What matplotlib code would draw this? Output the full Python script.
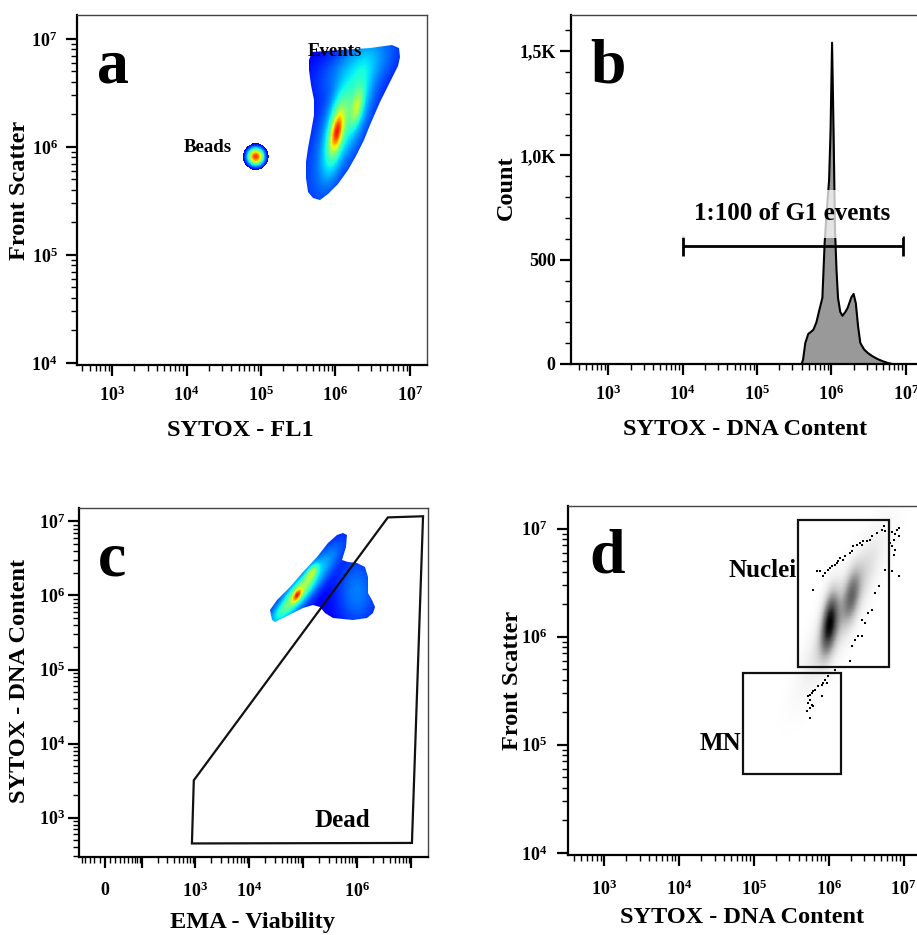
import numpy as np
import matplotlib
matplotlib.use('Agg')
import matplotlib.pyplot as plt
from matplotlib.colors import ListedColormap
from matplotlib.patches import Polygon, Rectangle
from matplotlib.ticker import (FixedLocator, FixedFormatter, LogLocator,
                               NullFormatter, MultipleLocator)

plt.rcParams['font.family'] = 'Liberation Serif'
plt.rcParams['font.weight'] = 'bold'
plt.rcParams['mathtext.fontset'] = 'custom'
plt.rcParams['mathtext.rm'] = 'Liberation Serif:bold'
plt.rcParams['mathtext.bf'] = 'Liberation Serif:bold'
plt.rcParams['mathtext.it'] = 'Liberation Serif:italic'

# ---------------- panel a : SYTOX-FL1 vs FSC (log10 units) ----------------
events_outline_lx = [5.644, 5.685, 6.060, 6.463, 6.758, 6.852, 6.866, 6.839, 6.732, 6.597,
                     6.463, 6.383, 6.275, 6.168, 6.034, 5.899, 5.792, 5.698, 5.631, 5.604,
                     5.604, 5.631, 5.671, 5.711, 5.711, 5.671, 5.644]
events_outline_ly = [6.806, 6.880, 6.898, 6.917, 6.944, 6.917, 6.833, 6.750, 6.602, 6.417,
                     6.204, 6.065, 5.917, 5.787, 5.657, 5.565, 5.509, 5.528, 5.583, 5.713,
                     5.861, 5.991, 6.139, 6.296, 6.435, 6.574, 6.713]
# populations: centre x, centre y, sd x, sd y, correlation, weight
events_cx = [6.02, 6.02, 6.29, 6.27, 6.15, 6.30]
events_cy = [6.14, 6.16, 6.37, 6.40, 6.30, 6.75]
events_sx = [0.05, 0.10, 0.05, 0.12, 0.30, 0.30]
events_sy = [0.10, 0.22, 0.10, 0.22, 0.45, 0.15]
events_rho = [0.5, 0.6, 0.5, 0.6, 0.75, 0.5]
events_w = [1.0, 0.45, 0.35, 0.20, 0.12, 0.08]
beads_cx, beads_cy = 4.93, 5.91
beads_sx, beads_sy = 0.07, 0.05

# ---------------- panel b : DNA content histogram ----------------
dna_log = [5.60, 5.62, 5.65, 5.69, 5.73, 5.76, 5.80, 5.84, 5.88, 5.91,
           5.94, 5.97, 5.99, 6.01, 6.03, 6.04, 6.05, 6.07, 6.09, 6.12,
           6.15, 6.19, 6.22, 6.27, 6.30, 6.33, 6.36, 6.39, 6.44, 6.49,
           6.55, 6.62, 6.70, 6.76, 6.82]
dna_count = [0, 20, 100, 144, 155, 165, 200, 260, 317, 577,
             740, 880, 1120, 1540, 1120, 880, 640, 450, 317, 250,
             231, 250, 269, 320, 336, 290, 180, 101, 70, 53,
             38, 24, 12, 5, 0]
g1_gate = [1e4, 9.1e6]
g1_gate_level = 567

# ---------------- panel c : EMA vs SYTOX ----------------
live_outline_lx = [4.425, 4.388, 4.518, 4.758, 4.999, 5.258, 5.462, 5.629, 5.740, 5.814,
                   5.795, 5.721, 5.832, 5.999, 6.147, 6.203, 6.203, 6.277, 6.332, 6.295,
                   6.184, 5.925, 5.555, 5.406, 5.314, 5.184, 4.999, 4.814, 4.629, 4.481]
live_outline_ly = [5.662, 5.797, 5.932, 6.108, 6.311, 6.514, 6.703, 6.811, 6.838, 6.811,
                   6.649, 6.473, 6.446, 6.432, 6.378, 6.243, 6.027, 5.932, 5.838, 5.757,
                   5.689, 5.662, 5.689, 5.757, 5.838, 5.865, 5.824, 5.757, 5.689, 5.635]
live_cx = [4.89, 4.92, 5.16, 5.00, 4.62, 6.00]
live_cy = [6.00, 6.04, 6.30, 6.10, 5.80, 6.05]
live_sx = [0.05, 0.16, 0.07, 0.35, 0.12, 0.20]
live_sy = [0.05, 0.14, 0.07, 0.30, 0.10, 0.25]
live_rho = [0.6, 0.8, 0.6, 0.9, 0.7, 0.0]
live_w = [1.0, 0.40, 0.40, 0.18, 0.12, 0.05]
dead_gate_x = [950, 3.73e6, 1.67e7, 1.04e7, 877]
dead_gate_y = [3200, 1.13e7, 1.17e7, 457, 450]

# ---------------- panel d : SYTOX vs FSC, nuclei / MN gates ----------------
nuc_cx = [6.01, 6.31, 6.20]
nuc_cy = [6.13, 6.38, 6.26]
nuc_sx = [0.07, 0.07, 0.26]
nuc_sy = [0.17, 0.15, 0.34]
nuc_rho = [0.4, 0.4, 0.88]
nuc_w = [1.0, 0.40, 0.30]
nuclei_gate = [3.84e5, 6.38e6, 5.27e5, 1.21e7]   # x0, x1, y0, y1
mn_gate = [7.2e4, 1.45e6, 5.4e4, 4.64e5]
dots_lx = [6.734, 6.711, 6.756, 6.801, 6.846, 6.890, 6.913, 6.935, 6.868, 6.823,
           6.846, 6.890, 6.868, 6.935, 6.644, 6.577, 6.555, 6.510, 6.465, 6.443,
           6.421, 6.376, 6.331, 6.309, 6.286, 6.219, 6.197, 6.152, 6.130, 6.107,
           6.085, 6.040, 6.018, 5.996, 5.951, 5.928, 5.884, 5.839, 5.794, 6.756,
           6.801, 6.846, 6.935, 6.667, 6.622, 6.577, 6.532, 6.488, 6.443, 6.443,
           6.398, 6.353, 6.309, 6.286, 6.085, 6.040, 5.996, 5.951, 5.928, 5.973,
           5.906, 5.861, 5.817, 5.794, 5.772, 5.749, 5.727, 5.906, 5.749, 5.727,
           5.772, 5.794, 5.749, 5.705, 5.749]
dots_ly = [7.022, 6.991, 6.975, 6.960, 6.966, 6.954, 6.991, 6.929, 6.898, 6.867,
           6.836, 6.806, 6.759, 7.006, 6.960, 6.929, 6.898, 6.883, 6.883, 6.852,
           6.867, 6.852, 6.836, 6.790, 6.775, 6.744, 6.713, 6.728, 6.698, 6.682,
           6.667, 6.651, 6.636, 6.620, 6.590, 6.559, 6.605, 6.605, 6.435, 6.620,
           6.590, 6.605, 6.559, 6.466, 6.404, 6.250, 6.219, 6.127, 6.157, 6.003,
           6.003, 5.972, 5.910, 5.772, 5.694, 5.664, 5.633, 5.602, 5.571, 5.571,
           5.556, 5.540, 5.509, 5.494, 5.478, 5.463, 5.448, 5.448, 5.417, 5.386,
           5.370, 5.355, 5.340, 5.309, 5.247]


def mixture(gx, gy, cx, cy, sx, sy, rho, w):
    dens = np.zeros_like(gx)
    for mx, my, ax_, ay, r, wt in zip(cx, cy, sx, sy, rho, w):
        dx = (gx - mx) / ax_
        dy = (gy - my) / ay
        q = (dx**2 - 2 * r * dx * dy + dy**2) / (1 - r**2)
        dens += wt * np.exp(-0.5 * q)
    return dens / dens.max()


def log_ticks(axis, lo, hi, labels, fmt):
    axis.set_major_locator(FixedLocator([10.0**k for k in range(lo, hi + 1)]))
    axis.set_major_formatter(FixedFormatter([fmt % k if k in labels else '' for k in range(lo, hi + 1)]))
    axis.set_minor_locator(LogLocator(base=10, subs=np.arange(2, 10), numticks=20))
    axis.set_minor_formatter(NullFormatter())


def style_axes(ax):
    for side in ['top', 'right']:
        ax.spines[side].set_linewidth(1.0)
        ax.spines[side].set_color('#444444')
    for side in ['left', 'bottom']:
        ax.spines[side].set_linewidth(1.6)
    ax.tick_params(which='major', direction='out', length=8, width=1.6, labelsize=13)
    ax.tick_params(which='minor', direction='out', length=4, width=1.0)
    ax.tick_params(top=False, right=False)


def place_labels(ax, xl, yl, xpos, ypos, size=17.5):
    ax.set_xlabel(xl, fontsize=size, fontweight='bold')
    ax.set_ylabel(yl, fontsize=size, fontweight='bold')
    ax.xaxis.set_label_coords(*xpos)
    ax.yaxis.set_label_coords(*ypos)
    ax.xaxis.label.set_va('center')
    ax.yaxis.label.set_va('center')


jet_cut = ListedColormap(plt.cm.jet(np.linspace(0.11, 0.89, 256)))

fig = plt.figure(figsize=(9.17, 9.35), dpi=100)
ax_a = fig.add_axes([0.0840, 0.6096, 0.3817, 0.3743])
ax_b = fig.add_axes([0.6227, 0.6107, 0.3828, 0.3733])
ax_c = fig.add_axes([0.0861, 0.0834, 0.3806, 0.3733])
ax_d = fig.add_axes([0.6194, 0.0856, 0.3839, 0.3733])

# ---- a ----
ax_a.set_xscale('log')
ax_a.set_yscale('log')
ax_a.set_xlim(10**2.53, 10**7.23)
ax_a.set_ylim(10**3.98, 10**7.22)
gx, gy = np.meshgrid(np.linspace(5.5, 7.0, 300), np.linspace(5.4, 7.0, 300))
dens = mixture(gx, gy, events_cx, events_cy, events_sx, events_sy, events_rho, events_w)
mesh = ax_a.pcolormesh(10**gx, 10**gy, dens**0.55, cmap=jet_cut, vmin=0, vmax=1,
                       shading='auto', rasterized=True)
outline = Polygon(np.column_stack([10**np.array(events_outline_lx), 10**np.array(events_outline_ly)]),
                  closed=True, facecolor='none', edgecolor='none', transform=ax_a.transData)
ax_a.add_patch(outline)
mesh.set_clip_path(outline)
bx, by = np.meshgrid(np.linspace(4.6, 5.25, 150), np.linspace(5.65, 6.15, 150))
bead = np.exp(-0.5 * (((bx - beads_cx) / beads_sx)**2 + ((by - beads_cy) / beads_sy)**2))
ax_a.pcolormesh(10**bx, 10**by, np.ma.masked_less(bead**0.7, 0.12), cmap=jet_cut,
                vmin=0.12, vmax=1.05, shading='auto', rasterized=True)
ax_a.text(10**4.29, 10**5.99, 'Beads', fontsize=13.5, ha='center', va='center')
ax_a.text(10**5.99, 10**6.88, 'Events', fontsize=13.5, ha='center', va='center')
log_ticks(ax_a.xaxis, 2, 7, [3, 4, 5, 6, 7], r'$\mathrm{10^{%d}}$')
log_ticks(ax_a.yaxis, 3, 7, [4, 5, 6, 7], r'$\mathrm{10^{%d}}$')
style_axes(ax_a)
ax_a.tick_params(axis='x', which='major', pad=7)
ax_a.tick_params(axis='y', which='major', pad=6)
place_labels(ax_a, 'SYTOX - FL1', 'Front Scatter', (0.466, -0.186), (-0.163, 0.5))
ax_a.text(0.057, 0.806, 'a', transform=ax_a.transAxes, fontsize=46, fontweight='bold',
          ha='left', va='baseline')

# ---- b ----
ax_b.set_xscale('log')
ax_b.set_xlim(10**2.50, 10**7.22)
ax_b.set_ylim(0, 1673)
dna = 10**np.array(dna_log)
ax_b.fill_between(dna, dna_count, 0, color='#999999', lw=0)
ax_b.plot(dna, dna_count, color='black', lw=1.5)
ax_b.text(2.96e5, 721, '1:100 of G1 events', fontsize=18, ha='center', va='center',
          bbox=dict(facecolor='white', edgecolor='none', alpha=0.75, pad=9))
ax_b.hlines(g1_gate_level, g1_gate[0], g1_gate[1], color='black', lw=2)
ax_b.vlines(g1_gate, g1_gate_level - 48, g1_gate_level + 48, color='black', lw=2)
log_ticks(ax_b.xaxis, 2, 7, [3, 4, 5, 6, 7], r'$\mathrm{10^{%d}}$')
ax_b.yaxis.set_major_locator(FixedLocator([0, 500, 1000, 1500]))
ax_b.yaxis.set_major_formatter(FixedFormatter(['0', '500', '1,0K', '1,5K']))
ax_b.yaxis.set_minor_locator(MultipleLocator(100))
style_axes(ax_b)
ax_b.tick_params(axis='x', which='major', pad=7)
ax_b.tick_params(axis='y', which='major', pad=3)
place_labels(ax_b, 'SYTOX - DNA Content', 'Count', (0.497, -0.189), (-0.183, 0.504))
ax_b.text(0.054, 0.806, 'b', transform=ax_b.transAxes, fontsize=46, fontweight='bold',
          ha='left', va='baseline')

# ---- c ----
ema_w = 43.0
ax_c.set_xscale('function', functions=(lambda v: np.arcsinh(np.asarray(v) / ema_w),
                                       lambda v: ema_w * np.sinh(np.asarray(v))))
ax_c.set_yscale('log')
ax_c.set_xlim(-58, 2.06e7)
ax_c.set_ylim(10**2.47, 10**7.18)
cx_, cy_ = np.meshgrid(np.linspace(4.3, 6.4, 300), np.linspace(5.55, 6.9, 300))
dens_c = mixture(cx_, cy_, live_cx, live_cy, live_sx, live_sy, live_rho, live_w)
mesh_c = ax_c.pcolormesh(10**cx_, 10**cy_, dens_c**0.5, cmap=jet_cut, vmin=0, vmax=1,
                         shading='auto', rasterized=True)
outline_c = Polygon(np.column_stack([10**np.array(live_outline_lx), 10**np.array(live_outline_ly)]),
                    closed=True, facecolor='none', edgecolor='none', transform=ax_c.transData)
ax_c.add_patch(outline_c)
mesh_c.set_clip_path(outline_c)
ax_c.add_patch(Polygon(np.column_stack([dead_gate_x, dead_gate_y]), closed=True,
                       fill=False, edgecolor='#111111', lw=1.6))
ax_c.text(10**5.72, 10**2.96, 'Dead', fontsize=18, ha='center', va='center')
major_c = [0, 1e2, 1e3, 1e4, 1e5, 1e6, 1e7]
ax_c.xaxis.set_major_locator(FixedLocator(major_c))
ax_c.xaxis.set_major_formatter(FixedFormatter(['0', '', r'$\mathrm{10^{3}}$', r'$\mathrm{10^{4}}$',
                                               '', r'$\mathrm{10^{6}}$', '']))
minor_c = [-50, -40, -30, -20, -10, 10, 20, 30, 40, 50, 60, 70, 80, 90]
for dec in [1e2, 1e3, 1e4, 1e5, 1e6]:
    minor_c += [m * dec for m in range(2, 10)]
ax_c.xaxis.set_minor_locator(FixedLocator(minor_c))
log_ticks(ax_c.yaxis, 2, 7, [3, 4, 5, 6, 7], r'$\mathrm{10^{%d}}$')
style_axes(ax_c)
ax_c.tick_params(axis='x', which='major', pad=10)
ax_c.tick_params(axis='y', which='major', pad=2)
place_labels(ax_c, 'EMA - Viability', 'SYTOX - DNA Content', (0.496, -0.189), (-0.169, 0.504))
ax_c.text(0.054, 0.808, 'c', transform=ax_c.transAxes, fontsize=46, fontweight='bold',
          ha='left', va='baseline')

# ---- d ----
ax_d.set_xscale('log')
ax_d.set_yscale('log')
ax_d.set_xlim(10**2.52, 10**7.22)
ax_d.set_ylim(10**3.98, 10**7.21)
dx_, dy_ = np.meshgrid(np.linspace(4.9, 7.3, 360), np.linspace(4.7, 7.3, 360))
dens_d = mixture(dx_, dy_, nuc_cx, nuc_cy, nuc_sx, nuc_sy, nuc_rho, nuc_w)
ax_d.pcolormesh(10**dx_, 10**dy_, dens_d**0.65, cmap='Greys', vmin=0, vmax=1,
                shading='auto', rasterized=True)
ax_d.scatter(10**np.array(dots_lx), 10**np.array(dots_ly), s=1.5, c='black', marker='s', lw=0)
for g in [nuclei_gate, mn_gate]:
    ax_d.add_patch(Rectangle((g[0], g[2]), g[1] - g[0], g[3] - g[2], fill=False,
                             edgecolor='#111111', lw=1.6))
ax_d.text(nuclei_gate[0] * 0.97, 10**6.61, 'Nuclei', fontsize=18, ha='right', va='center')
ax_d.text(mn_gate[0] * 0.95, 10**5.01, 'MN', fontsize=18, ha='right', va='center')
log_ticks(ax_d.xaxis, 2, 7, [3, 4, 5, 6, 7], r'$\mathit{10^{%d}}$')
log_ticks(ax_d.yaxis, 3, 7, [4, 5, 6, 7], r'$\mathit{10^{%d}}$')
style_axes(ax_d)
ax_d.tick_params(axis='x', which='major', pad=10)
ax_d.tick_params(axis='y', which='major', pad=7)
place_labels(ax_d, 'SYTOX - DNA Content', 'Front Scatter', (0.494, -0.178), (-0.159, 0.501))
ax_d.text(0.06, 0.808, 'd', transform=ax_d.transAxes, fontsize=46, fontweight='bold',
          ha='left', va='baseline')

fig.savefig('out.png', dpi=100)
